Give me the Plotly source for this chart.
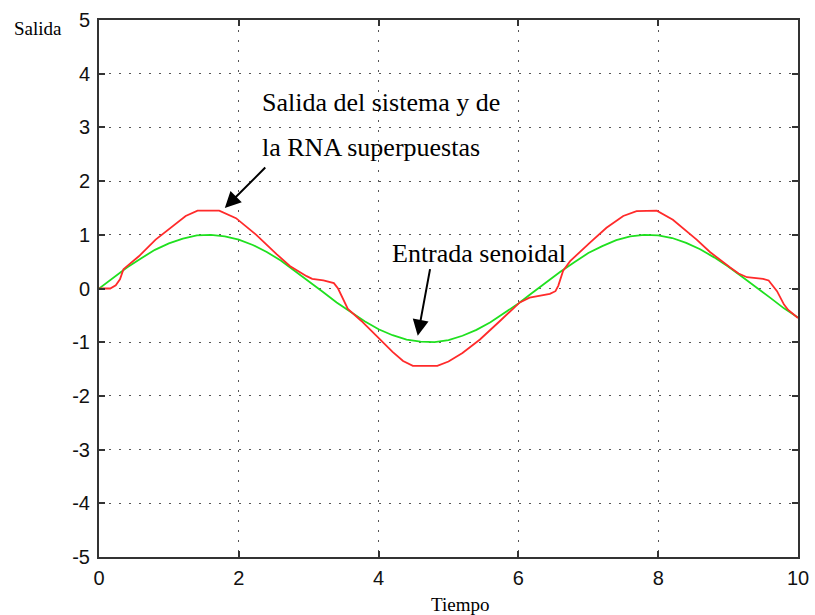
import plotly.graph_objects as go

# Green: sinusoidal input
t_in = [0.0, 0.2, 0.4, 0.6, 0.8, 1.0, 1.2, 1.4, 1.6, 1.8, 2.0, 2.2, 2.4, 2.6, 2.8, 3.0,
        3.2, 3.4, 3.6, 3.8, 4.0, 4.2, 4.4, 4.6, 4.8, 5.0, 5.2, 5.4, 5.6, 5.8, 6.0,
        6.2, 6.4, 6.6, 6.8, 7.0, 7.2, 7.4, 7.6, 7.8, 8.0, 8.2, 8.4, 8.6, 8.8, 9.0,
        9.2, 9.4, 9.6, 9.8, 10.0]
y_in = [0.00, 0.20, 0.39, 0.56, 0.72, 0.84, 0.93, 0.99, 1.00, 0.97, 0.91, 0.81, 0.68,
        0.52, 0.33, 0.14, -0.06, -0.26, -0.44, -0.61, -0.76, -0.87, -0.95, -0.99, -1.00,
        -0.96, -0.88, -0.77, -0.63, -0.46, -0.28, -0.08, 0.12, 0.31, 0.49, 0.66, 0.79,
        0.90, 0.97, 1.00, 0.99, 0.94, 0.85, 0.73, 0.58, 0.41, 0.22, 0.03, -0.17, -0.37,
        -0.54]

# Red: system / RNA output
t_out = [0.0, 0.16, 0.24, 0.30, 0.35, 0.45, 0.57, 0.81, 1.05, 1.24, 1.41, 1.72, 1.96,
         2.25, 2.54, 2.73, 2.97, 3.05, 3.21, 3.36, 3.42, 3.50, 3.56, 3.75, 3.98, 4.20,
         4.35, 4.49, 4.84, 5.00, 5.20, 5.45, 5.74, 6.02, 6.16, 6.30, 6.45, 6.53, 6.57,
         6.64, 6.74, 7.02, 7.26, 7.50, 7.69, 7.98, 8.21, 8.55, 8.74, 9.03, 9.15, 9.27,
         9.50, 9.58, 9.70, 9.80, 9.86, 10.0]
y_out = [0.0, 0.0, 0.06, 0.17, 0.36, 0.47, 0.60, 0.91, 1.16, 1.35, 1.45, 1.45, 1.31,
         1.00, 0.64, 0.42, 0.23, 0.18, 0.15, 0.10, 0.00, -0.22, -0.38, -0.60, -0.90,
         -1.18, -1.35, -1.44, -1.44, -1.36, -1.20, -0.95, -0.60, -0.26, -0.17, -0.13,
         -0.10, -0.05, 0.05, 0.33, 0.51, 0.85, 1.13, 1.35, 1.44, 1.45, 1.28, 0.91, 0.68,
         0.39, 0.28, 0.21, 0.18, 0.15, -0.05, -0.30, -0.40, -0.55]

x_ticks = [0, 2, 4, 6, 8, 10]
y_ticks = [-5, -4, -3, -2, -1, 0, 1, 2, 3, 4, 5]

fig = go.Figure()
fig.add_trace(go.Scatter(x=t_in, y=y_in, mode="lines",
                         line=dict(color="#1fe01f", width=1.8), showlegend=False))
fig.add_trace(go.Scatter(x=t_out, y=y_out, mode="lines",
                         line=dict(color="#ff2a2a", width=1.8), showlegend=False))

tickfont = dict(family="Liberation Sans Narrow, Arial Narrow, Liberation Sans, Arial",
                size=20, color="#111")
serif = "Liberation Serif, Times New Roman, serif"

axis_common = dict(showline=True, linecolor="#333", linewidth=2, mirror="allticks",
                   ticks="inside", ticklen=6, tickcolor="#333", tickwidth=1.5,
                   showgrid=True, gridcolor="#555", gridwidth=1.2, griddash="2px,8px",
                   zeroline=False, tickfont=tickfont, automargin=False)

fig.update_xaxes(range=[0, 10], tickvals=x_ticks, ticktext=[str(v) for v in x_ticks],
                 ticklabelstandoff=2, **axis_common)
fig.update_yaxes(range=[-5, 5], tickvals=y_ticks, ticktext=[str(v) for v in y_ticks],
                 ticklabelstandoff=3, **axis_common)

annotations = [
    dict(text="Salida", xref="paper", yref="paper", x=0, y=1, xanchor="right",
         yanchor="middle", xshift=-35, yshift=-8, showarrow=False,
         font=dict(family=serif, size=19, color="black")),
    dict(text="Tiempo", xref="paper", yref="paper", x=0.516, y=0, xanchor="center",
         yanchor="middle", yshift=-47, showarrow=False,
         font=dict(family=serif, size=19, color="black")),
    dict(text="Salida del sistema y de", xref="x", yref="y", x=2.30, y=3.46,
         xanchor="left", yanchor="middle", showarrow=False,
         font=dict(family=serif, size=26, color="black")),
    dict(text="la RNA superpuestas", xref="x", yref="y", x=2.30, y=2.63,
         xanchor="left", yanchor="middle", showarrow=False,
         font=dict(family=serif, size=26, color="black")),
    dict(text="Entrada senoidal", xref="x", yref="y", x=4.16, y=0.66,
         xanchor="left", yanchor="middle", showarrow=False,
         font=dict(family=serif, size=26, color="black")),
    dict(text="", xref="x", yref="y", x=1.80, y=1.50, ax=2.40, ay=2.28,
         axref="x", ayref="y", showarrow=True, arrowhead=2, arrowsize=1.6,
         arrowwidth=2, arrowcolor="black"),
    dict(text="", xref="x", yref="y", x=4.56, y=-0.88, ax=4.74, ay=0.39,
         axref="x", ayref="y", showarrow=True, arrowhead=2, arrowsize=1.6,
         arrowwidth=2, arrowcolor="black"),
]

fig.update_layout(width=815, height=615, margin=dict(l=99, r=17, t=20, b=58),
                  plot_bgcolor="white", paper_bgcolor="white",
                  annotations=annotations)

fig.write_html("out.html", config={"displayModeBar": False},
               post_script="document.body.style.margin='0';"
                           "document.body.style.overflow='hidden';")
